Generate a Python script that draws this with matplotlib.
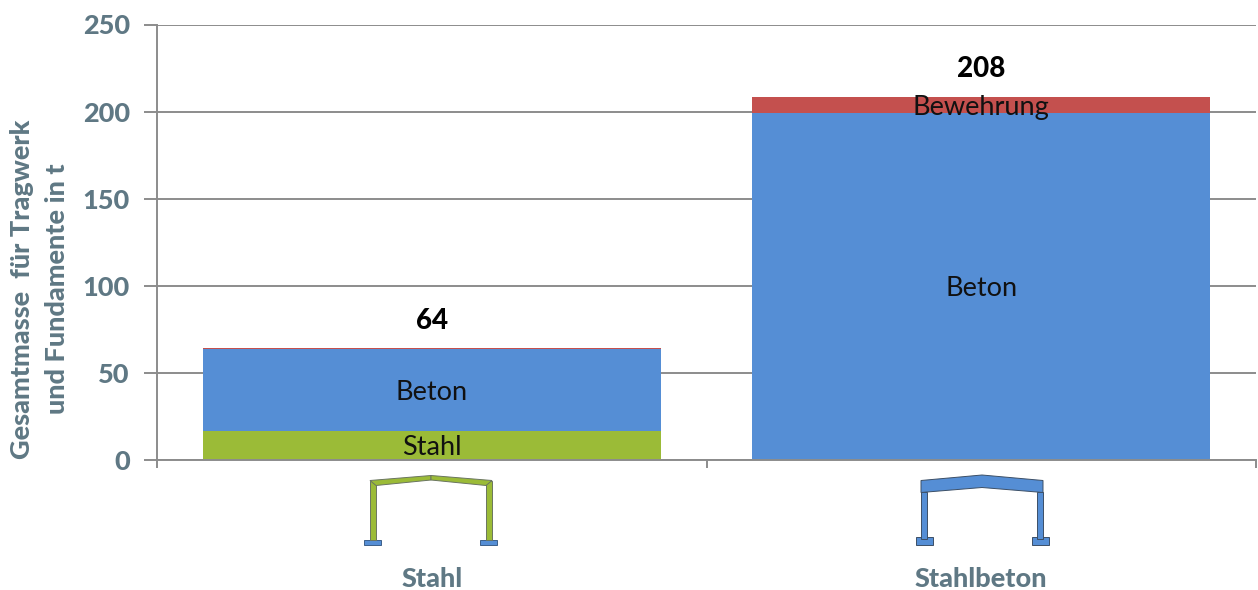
import matplotlib
matplotlib.use("Agg")
import matplotlib.pyplot as plt
from matplotlib.patches import Polygon, Rectangle

categories = ["Stahl", "Stahlbeton"]
stahl = [16.6, 0]
beton = [47.0, 199.2]
bewehrung = [0.6, 9.2]
totals = ["64", "208"]
yticks = [0, 50, 100, 150, 200, 250]
ylabel = "Gesamtmasse  für Tragwerk\nund Fundamente in t"

W, H = 1258, 590
GREY = "#8c8c8c"
TXT = "#5f7884"
GREEN = "#9bbb37"
BLUE = "#558ed5"
RED = "#c4504e"
BOLD = 900

plt.rcParams["font.family"] = ["Lato", "DejaVu Sans"]
fig = plt.figure(figsize=(W / 100, H / 100), dpi=100, facecolor="white")
ax = fig.add_axes([157 / W, 1 - 460 / H, (1256 - 157) / W, (460 - 24.5) / H])

x = [0, 1]
bw = 0.833
ax.bar(x, stahl, bw, color=GREEN, zorder=3)
ax.bar(x, beton, bw, bottom=stahl, color=BLUE, zorder=3)
bottom3 = [a + b for a, b in zip(stahl, beton)]
ax.bar(x, bewehrung, bw, bottom=bottom3, color=RED, zorder=3)

ax.set_xlim(-0.5, 1.5)
ax.set_ylim(0, 250)
ax.set_yticks(yticks)
ax.set_xticks([-0.5, 0.5, 1.5])
ax.set_xticklabels([])
ax.grid(axis="y", color=GREY, lw=1.4, zorder=1)
ax.set_axisbelow(True)
for s in ("top", "right"):
    ax.spines[s].set_visible(False)
for s in ("left", "bottom"):
    ax.spines[s].set_color(GREY)
    ax.spines[s].set_linewidth(1.4)
    ax.spines[s].set_zorder(4)
ax.tick_params(axis="y", length=9.5, width=1.4, color=GREY, labelcolor=TXT,
               labelsize=19.5, pad=10)
ax.tick_params(axis="x", length=6, width=1.4, color=GREY)
for t in ax.get_yticklabels():
    t.set_fontweight(BOLD)

# segment labels
seg = dict(ha="center", va="center", fontsize=19.5, color="#111111", zorder=5)
ax.text(0, stahl[0] / 2 - 1.2, "Stahl", **seg)
ax.text(0, stahl[0] + beton[0] / 2 - 1.2, "Beton", **seg)
ax.text(1, beton[1] / 2 - 1.4, "Beton", **seg)
ax.text(1, bottom3[1] + bewehrung[1] / 2 - 1.6, "Bewehrung", **seg)

# totals
for xi, lab, top in zip(x, totals, [a + b for a, b in zip(bottom3, bewehrung)]):
    ax.annotate(lab, (xi, top), xytext=(0, 19.8), textcoords="offset points",
                ha="center", va="center", fontsize=20, fontweight=BOLD,
                color="black", zorder=5)

# category labels
for xi, lab in zip(x, categories):
    ax.annotate(lab, (xi, 0), xytext=(0, -119 * 0.72), textcoords="offset points",
                ha="center", va="center", fontsize=19.5, fontweight=BOLD, color=TXT)

fig.text(22 / W, 1 - 289 / H, ylabel.split("\n")[0], rotation=90, ha="center",
         va="center", fontsize=19.5, fontweight=BOLD, color=TXT)
fig.text(57 / W, 1 - 289 / H, ylabel.split("\n")[1], rotation=90, ha="center",
         va="center", fontsize=19.5, fontweight=BOLD, color=TXT)

# overlay for the small frame pictograms, in image pixels
ov = fig.add_axes([0, 0, 1, 1], facecolor="none")
ov.set_xlim(0, W)
ov.set_ylim(H, 0)
ov.axis("off")
EDGE = "#6a7560"


def poly(pts, fc, ec=EDGE):
    ov.add_patch(Polygon(pts, closed=True, fc=fc, ec=ec, lw=0.7, zorder=3))


def rect(x0, y0, w, h, fc, ec="#3c5f8a"):
    ov.add_patch(Rectangle((x0, y0), w, h, fc=fc, ec=ec, lw=0.7, zorder=3))


# steel frame
rect(364, 539.5, 17, 5, BLUE)
rect(480, 539.5, 17, 5, BLUE)
rect(370, 480.5, 6, 59, GREEN, EDGE)
rect(486, 480.5, 6, 59, GREEN, EDGE)
poly([(370, 480.5), (431, 475.5), (431, 480), (376, 485.5)], GREEN)
poly([(492, 480.5), (431, 475.5), (431, 480), (486, 485.5)], GREEN)

# concrete frame
EB = "#3c4f66"
rect(915.5, 537, 17, 7.5, BLUE, EB)
rect(1031.5, 537, 17, 7.5, BLUE, EB)
rect(921, 492, 6, 47, BLUE, EB)
rect(1037, 492, 6, 47, BLUE, EB)
poly([(921, 480.5), (982, 475), (1043, 480.5), (1043, 492.5), (982, 487.5), (921, 492.5)],
     BLUE, EB)

fig.savefig("out.png", dpi=100)
